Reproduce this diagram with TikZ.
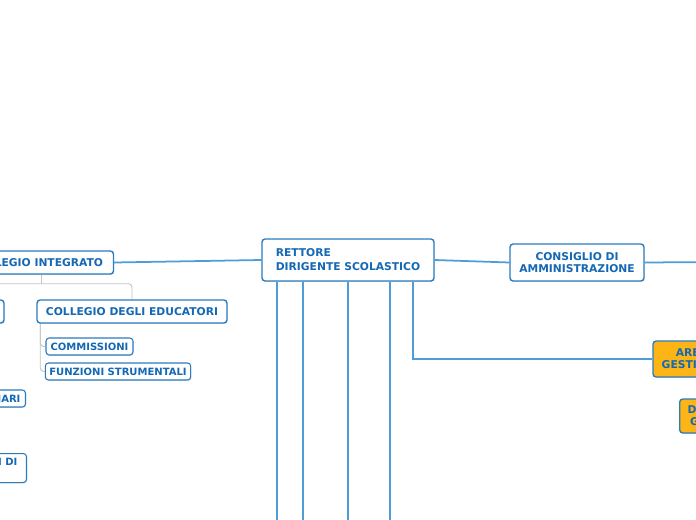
\documentclass[tikz,border=0pt]{standalone}
\usepackage{fontspec}
\setmainfont{DejaVu Sans}
\usetikzlibrary{calc,shadows,backgrounds}
\definecolor{mapText}{HTML}{1468B4}
\definecolor{mapEdge}{HTML}{2A7BC0}
\definecolor{mapLink}{HTML}{4E9DD8}
\definecolor{mapTree}{HTML}{C2C2C2}
\definecolor{mapGold}{HTML}{FDB515}
\def\pxu{0.02cm}

\begin{document}
\begin{tikzpicture}[x=0.02cm,y=-0.02cm,
  box/.style={draw=mapEdge,line width=0.8pt,fill=white,rounded corners=1.8pt,text=mapText,
    font=\fontsize{6.1}{6.8}\selectfont\bfseries,align=center,inner xsep=4*\pxu,inner ysep=0pt,
    drop shadow={opacity=.25,shadow xshift=.4pt,shadow yshift=-.5pt}},
  small/.style={box,font=\fontsize{5.7}{6.8}\selectfont\bfseries,line width=0.6pt},
  gold/.style={box,fill=mapGold},
  link/.style={draw=mapLink,line width=1pt},
  tree/.style={draw=mapTree,line width=0.5pt,rounded corners=2pt}]
\useasboundingbox (0,0) rectangle (696,520);
\clip (0,0) rectangle (696,520);
% --- top row ---
\node[box,align=left,font=\fontsize{6.1}{7.9}\selectfont\bfseries,
  minimum width=172*\pxu,minimum height=42*\pxu] (ret) at (348,260) {RETTORE\\DIRIGENTE SCOLASTICO};
\node[box,minimum width=153*\pxu,minimum height=23*\pxu] (ci) at (37,262.5) {COLLEGIO INTEGRATO};
\node[box,minimum width=134*\pxu,minimum height=37*\pxu] (cda) at (577,262.5) {CONSIGLIO DI\\AMMINISTRAZIONE};
% --- collegio integrato ---
\node[box,minimum width=161*\pxu,minimum height=23*\pxu] (cdd) at (-76.5,311.5) {COLLEGIO DEI DOCENTI};
\node[box,minimum width=190*\pxu,minimum height=23*\pxu] (cde) at (132,311.5) {COLLEGIO DEGLI EDUCATORI};
\node[small,minimum width=87*\pxu,minimum height=17*\pxu] (com) at (89.5,346.5) {COMMISSIONI};
\node[small,minimum width=144*\pxu,minimum height=17*\pxu] (fun) at (118,371.5) {FUNZIONI STRUMENTALI};
\node[small,anchor=east,minimum height=17*\pxu,inner xsep=5*\pxu] (dip) at (26,398.5) {DIPARTIMENTI DISCIPLINARI};
\node[small,anchor=north east,align=left,minimum height=29*\pxu,inner xsep=9*\pxu] (cdc) at (27,453) {CONSIGLI DI\\CLASSE};
% --- area gestione ---
\node[gold,minimum width=78*\pxu,minimum height=36*\pxu] (area) at (692,359) {AREA\\GESTIONE};
\node[gold,anchor=west,minimum height=34*\pxu,inner xsep=8*\pxu] (dsga) at (679,416) {DIRETTORE\\GENERALE};
% --- connectors ---
\begin{scope}[on background layer]
  \draw[link] (ci.east) -- (ret.west);
  \draw[link] (ret.east) -- (cda.west);
  \coordinate (far) at (720,262);
  \draw[link] (cda.east) -- (far);
  \draw[link] ($(ret.south west)+(152,0)$) |- (area.west);
  \foreach \x/\n in {277/a,303/b,348/c,390/d} {
    \coordinate (low\n) at (\x,540);
    \draw[link] (ret.south -| low\n) -- (low\n);}
  \coordinate (cij) at ($(ci.south)+(4,9)$);
  \draw[tree] (ci.south) ++(4,0) -- (cij);
  \draw[tree] (cdd.north) |- (cij) -| (cde.north);
  \coordinate (cej) at ($(cde.south west)+(4,0)$);
  \draw[tree] (cej) |- (com.west);
  \draw[tree] (cej) |- (fun.west);
\end{scope}
\end{tikzpicture}
\end{document}
